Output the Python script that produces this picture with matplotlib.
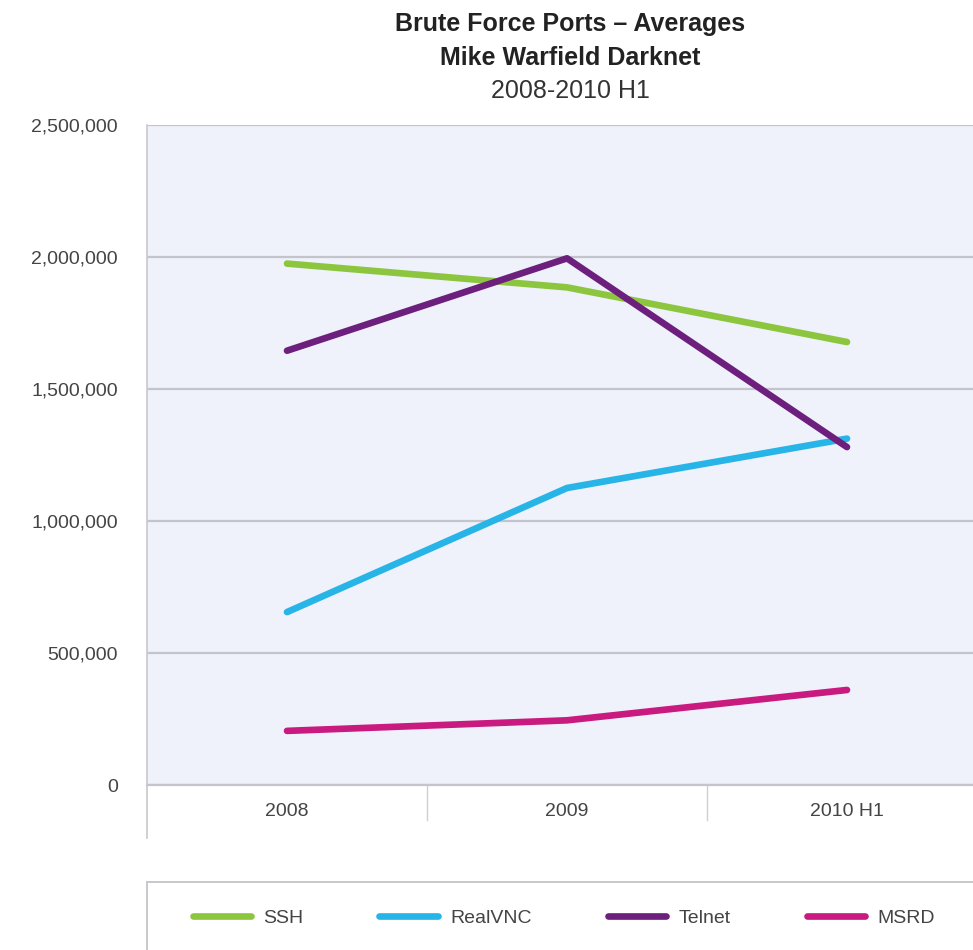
import matplotlib.pyplot as plt
from matplotlib.lines import Line2D
from matplotlib.patches import Rectangle
import matplotlib.ticker as mtick

# Brute force ports, averages per period
periods = ['2008', '2009', '2010 H1']
ssh = [1975000, 1885000, 1678000]
realvnc = [655000, 1125000, 1312000]
telnet = [1645000, 1995000, 1280000]
msrd = [205000, 245000, 360000]

series = [('SSH', ssh, '#8cc63f'),
          ('RealVNC', realvnc, '#27b4e6'),
          ('Telnet', telnet, '#6c1f7d'),
          ('MSRD', msrd, '#c91a80')]

plt.rcParams['font.family'] = ['Liberation Sans', 'DejaVu Sans']

W, H = 973, 950
fig = plt.figure(figsize=(W / 100, H / 100), dpi=100)
ax = fig.add_axes([147 / W, 1 - 785 / H, 840 / W, 660 / H])
ax.set_facecolor('#eff1fb')

x = range(len(periods))
for name, vals, col in series:
    ax.plot(x, vals, color=col, lw=4.8, solid_capstyle='round',
            solid_joinstyle='round', label=name, zorder=3)

ax.set_xlim(-0.5, 2.5)
ax.set_ylim(0, 2500000)
ax.yaxis.set_major_locator(mtick.MultipleLocator(500000))
ax.yaxis.set_major_formatter(mtick.FuncFormatter(lambda v, p: f'{int(v):,}'))
ax.grid(axis='y', color='#c4c5cc', lw=1.6, zorder=1)
ax.set_xticks(list(x))
ax.set_xticklabels(periods)
ax.tick_params(axis='both', length=0, labelsize=14, colors='#444444')
ax.tick_params(axis='y', pad=21)
ax.tick_params(axis='x', pad=13)

for s in ['top', 'right']:
    ax.spines[s].set_visible(False)
ax.spines['bottom'].set_color('#c4c5cc')
ax.spines['bottom'].set_linewidth(1.6)
ax.spines['left'].set_color('#c8c8cc')
ax.spines['left'].set_linewidth(1.2)

# left axis line continues below the category labels
fig.add_artist(Line2D([147 / W, 147 / W], [1 - 785 / H, 1 - 838 / H],
                      transform=fig.transFigure, color='#c8c8cc', lw=1.2))
# category separators
tr = ax.get_xaxis_transform()
for b in [0.5, 1.5]:
    ax.add_line(Line2D([b, b], [0, -35 / 660], transform=tr,
                       color='#d0d0d4', lw=1.0, clip_on=False))

fig.text(570 / W, 1 - 24 / H, 'Brute Force Ports – Averages', ha='center',
         va='center', fontsize=18, fontweight='bold', color='#222222')
fig.text(570 / W, 1 - 58 / H, 'Mike Warfield Darknet', ha='center',
         va='center', fontsize=18, fontweight='bold', color='#222222')
fig.text(570 / W, 1 - 91 / H, '2008-2010 H1', ha='center',
         va='center', fontsize=18, color='#333333')

# legend box
fig.add_artist(Rectangle((147 / W, -0.05), 1.0, 1 - 882 / H + 0.05,
                         transform=fig.transFigure, facecolor='white',
                         edgecolor='#c8c8cc', lw=1.4))
fig.legend(loc='center left', bbox_to_anchor=(175 / W, 1 - 918 / H),
           ncol=4, frameon=False, fontsize=14, handlelength=3.0,
           columnspacing=3.9, handletextpad=0.65, labelcolor='#444444')

fig.savefig('out.png', dpi=100)
